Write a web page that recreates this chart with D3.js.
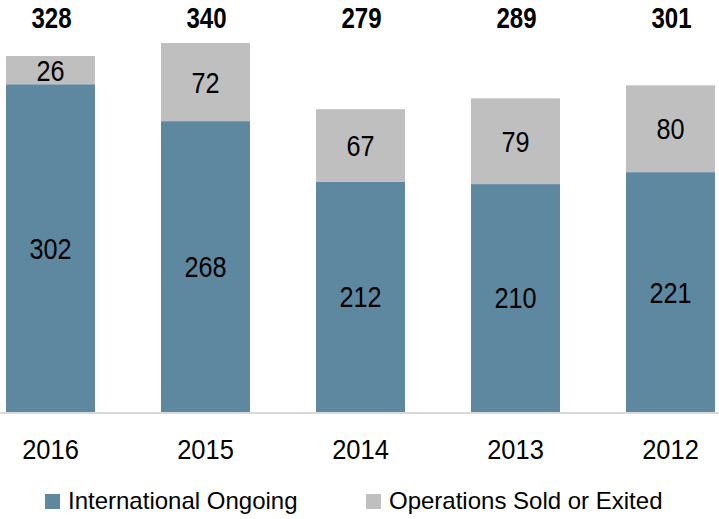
<!DOCTYPE html>
<html>
<head>
<meta charset="utf-8">
<script src="https://cdn.jsdelivr.net/npm/d3@7"></script>
<style>
  body { margin: 0; background: #fff; }
  svg text { font-family: "Liberation Sans", Arial, sans-serif; fill: #000; }
</style>
</head>
<body>
<svg id="chart" width="719" height="519"></svg>
<script>
// chart data
const years = ['2016', '2015', '2014', '2013', '2012'];
const ongoing = [302, 268, 212, 210, 221];
const exited = [26, 72, 67, 79, 80];
const seriesNames = ['International Ongoing', 'Operations Sold or Exited'];
const seriesColors = ['#5e87a0', '#bfbfbf'];

const svg = d3.select('#chart');
const baseY = 412;

// no narrow font installed, so squeeze text sideways
function squeeze(sel, sx, fx, fy) {
  sel.attr('x', 0).attr('y', 0)
    .attr('transform', (d, i) => 'translate(' + fx(d, i) + ',' + fy(d, i) + ') scale(' + sx + ',1)');
}

// band runs a little past the edges, like the original slide
const x = d3.scaleBand().domain(years).range([-27, 748]).paddingInner(0.426).paddingOuter(0.213);
const y = d3.scaleLinear().domain([0, 340]).range([baseY, 43]);
const cx = yr => x(yr) + x.bandwidth() / 2;

const rows = years.map((yr, i) => ({ year: yr, ongoing: ongoing[i], exited: exited[i] }));
const stack = d3.stack().keys(['ongoing', 'exited'])(rows);

// bars
const layers = svg.selectAll('g.layer').data(stack).enter()
  .append('g').attr('class', 'layer')
  .attr('fill', (d, i) => seriesColors[i]);

layers.selectAll('rect').data(d => d).enter().append('rect')
  .attr('x', d => x(d.data.year))
  .attr('width', x.bandwidth())
  .attr('y', d => y(d[1]))
  .attr('height', d => y(d[0]) - y(d[1]));

// segment labels
layers.selectAll('text').data(d => d).enter().append('text')
  .attr('dy', '0.36em')
  .attr('text-anchor', 'middle')
  .style('font-size', '29px')
  .text(d => d[1] - d[0])
  .call(squeeze, 0.87, d => cx(d.data.year), d => (y(d[0]) + y(d[1])) / 2);

// totals on top
svg.selectAll('text.total').data(rows).enter().append('text')
  .attr('class', 'total')
  .attr('text-anchor', 'middle')
  .style('font-size', '29px')
  .style('font-weight', 'bold')
  .text(d => d.ongoing + d.exited)
  .call(squeeze, 0.83, d => cx(d.year) + 1, () => 28);

// x axis
svg.append('line')
  .attr('x1', 0).attr('x2', 719)
  .attr('y1', baseY + 1).attr('y2', baseY + 1)
  .attr('stroke', '#d9d9d9').attr('stroke-width', 2);
svg.selectAll('text.tick-label').data(years).enter().append('text')
  .attr('class', 'tick-label')
  .attr('text-anchor', 'middle')
  .style('font-size', '28px')
  .text(d => d)
  .call(squeeze, 0.91, d => cx(d), () => 459);

// legend
const legendX = [45, 366];
const legend = svg.selectAll('g.legend').data(seriesNames).enter()
  .append('g').attr('class', 'legend')
  .attr('transform', (d, i) => 'translate(' + legendX[i] + ',494)');
legend.append('rect')
  .attr('width', 15).attr('height', 15)
  .attr('fill', (d, i) => seriesColors[i]);
legend.append('text')
  .attr('x', 23).attr('y', 15)
  .style('font-size', '24px')
  .text(d => d);
</script>
</body>
</html>
